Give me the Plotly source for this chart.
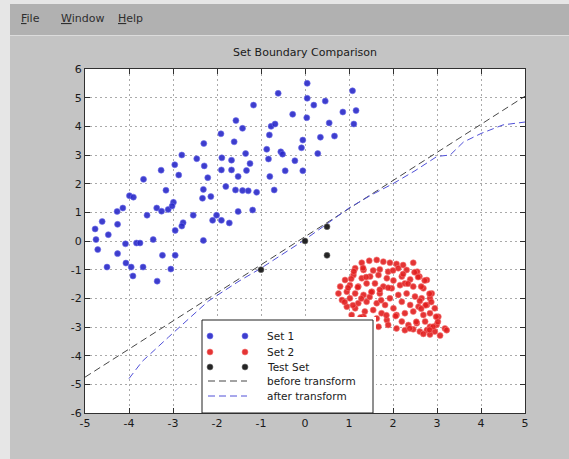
import plotly.graph_objects as go

# ---------------- data ----------------
set1_points = [
    (0.05, 5.50), (-0.61, 5.15), (0.05, 4.98), (-1.17, 4.74), (-0.28, 4.42), (0.04, 4.30),
    (-1.57, 4.20), (-0.77, 4.00), (-0.68, 4.08), (-1.42, 3.93), (-0.81, 3.70), (-1.91, 3.74),
    (-2.30, 3.40), (-1.61, 3.46), (-0.05, 3.52), (-0.08, 3.25), (-0.87, 3.20), (-0.55, 3.11),
    (-0.51, 3.03), (-1.35, 3.05), (-2.80, 3.00), (-2.46, 2.87), (-1.89, 2.90), (-1.67, 2.82),
    (-0.83, 2.86), (-0.23, 2.80), (-1.25, 2.70), (-2.29, 2.62), (-2.96, 2.66), (-3.27, 2.47),
    (-1.90, 2.48), (-1.67, 2.48), (-1.33, 2.46), (-0.45, 2.45), (-0.05, 2.45), (-2.87, 2.30),
    (-0.80, 2.25), (-1.52, 2.25), (-2.21, 2.21), (-3.67, 2.15), (-1.80, 1.90), (-3.16, 1.77),
    (-2.31, 1.80), (-1.58, 1.78), (-1.42, 1.76), (-1.29, 1.75), (-1.10, 1.70), (-0.70, 1.78),
    (-3.99, 1.58), (-3.90, 1.53), (-2.33, 1.49), (-2.14, 1.55), (-4.14, 1.15), (-4.27, 1.03),
    (-3.37, 1.15), (-3.26, 1.04), (-3.11, 1.10), (-2.99, 1.35), (-3.02, 1.22), (-4.61, 0.68),
    (-4.77, 0.42), (-3.59, 0.90), (-2.54, 0.90), (-2.01, 0.90), (-2.10, 0.72), (-1.90, 0.72),
    (-1.72, 0.63), (-1.52, 1.03), (-1.19, 1.08), (-4.26, 0.58), (-2.77, 0.64), (-2.80, 0.52),
    (-2.95, 0.37), (-4.47, 0.22), (-4.75, 0.05), (-4.71, -0.30), (-4.08, -0.10), (-3.83, -0.07),
    (-3.75, -0.07), (-3.45, 0.05), (-2.31, 0.02), (-4.26, -0.44), (-3.24, -0.50), (-2.95, -0.50),
    (-4.07, -0.77), (-3.95, -0.91), (-3.91, -1.22), (-3.68, -0.91), (-4.50, -0.91), (-3.36, -1.40),
    (-3.05, -0.98), (1.08, 5.24), (0.20, 4.74), (0.46, 4.88), (0.86, 4.50), (1.16, 4.55),
    (0.55, 4.12), (1.11, 4.08), (0.35, 3.62), (0.67, 3.66), (0.29, 3.05),
]

set2_points = [
    (1.29, -0.76), (1.46, -0.69), (1.63, -0.66), (1.78, -0.72), (1.93, -0.76), (2.08, -0.80),
    (2.23, -0.84), (2.46, -0.76), (1.14, -0.95), (1.33, -1.01), (1.55, -1.03), (1.70, -0.99),
    (1.89, -1.07), (2.12, -0.95), (2.31, -1.01), (2.55, -1.07), (1.10, -1.19), (0.91, -1.36),
    (1.29, -1.30), (1.48, -1.24), (1.67, -1.19), (1.86, -1.30), (2.01, -1.38), (2.20, -1.24),
    (2.39, -1.34), (2.60, -1.24), (2.77, -1.36), (0.80, -1.59), (1.02, -1.54), (1.21, -1.59),
    (1.40, -1.48), (1.59, -1.48), (1.78, -1.59), (1.97, -1.65), (2.16, -1.54), (2.27, -1.48),
    (2.46, -1.59), (2.69, -1.65), (2.88, -1.83), (0.76, -1.83), (0.95, -1.77), (1.14, -1.83),
    (1.33, -1.88), (1.52, -1.77), (1.70, -1.83), (1.93, -2.00), (2.12, -1.88), (2.31, -1.83),
    (2.50, -1.94), (2.65, -2.00), (2.84, -2.00), (0.84, -2.06), (1.02, -2.00), (1.21, -2.17),
    (1.40, -2.12), (1.63, -2.17), (1.82, -2.23), (2.01, -2.35), (2.20, -2.12), (2.39, -2.23),
    (2.58, -2.29), (2.77, -2.23), (2.95, -2.35), (0.95, -2.29), (1.14, -2.35), (1.36, -2.46),
    (1.55, -2.41), (1.74, -2.52), (2.08, -2.58), (2.27, -2.52), (2.46, -2.46), (2.69, -2.58),
    (2.84, -2.52), (3.03, -2.64), (1.06, -2.58), (1.33, -2.64), (1.63, -2.70), (1.86, -2.76),
    (2.20, -2.81), (2.35, -2.93), (2.54, -2.87), (2.73, -2.81), (2.84, -2.99), (2.99, -2.93),
    (3.18, -3.05), (3.22, -3.11), (1.67, -2.99), (1.89, -2.93), (2.08, -3.05), (2.27, -3.11),
    (2.46, -3.08), (2.61, -3.16), (2.77, -3.11), (2.95, -3.16), (3.07, -3.30), (2.84, -3.26),
    (2.69, -3.24), (2.57, -1.26), (2.72, -1.38), (2.34, -1.49), (2.83, -1.84), (2.64, -1.59),
    (2.61, -2.09), (2.74, -2.24), (2.87, -2.13), (2.64, -2.36), (2.98, -2.64), (1.85, -2.59),
    (2.06, -2.62), (1.28, -2.01), (1.47, -1.95), (1.73, -2.07), (1.51, -1.78), (1.70, -1.70),
    (1.89, -1.63), (1.39, -1.26), (1.05, -1.32), (0.98, -1.63), (1.20, -1.61), (0.90, -2.13),
    (1.09, -2.24), (1.26, -2.67), (2.53, -2.82), (2.91, -2.99), (3.02, -2.82), (2.83, -3.10),
    (2.38, -3.05), (1.11, -1.06), (1.32, -0.94), (2.00, -1.03), (2.23, -1.15), (2.49, -1.09),
]

test_x = [-1.0, 0.0, 0.5, 0.5]
test_y = [-1.0, 0.0, 0.5, -0.5]

before_x = [-5.0, 5.0]
before_y = [-4.75, 5.05]

after_x = [-4.0, -3.7, -3.1, -2.6, -2.2, -1.5, -1.0, -0.5, 0.0, 0.5, 1.0, 1.5,
           2.0, 2.5, 3.0, 3.3, 3.6, 4.0, 4.5, 5.0]
after_y = [-4.8, -4.2, -3.35, -2.65, -2.1, -1.4, -0.95, -0.45, 0.05, 0.6, 1.15, 1.6,
           2.0, 2.45, 2.95, 3.0, 3.45, 3.75, 4.05, 4.15]

x_tick_vals = [-5, -4, -3, -2, -1, 0, 1, 2, 3, 4, 5]
x_tick_text = ["-5", "-4", "-3", "-2", "-1", "0", "1", "2", "3", "4", "5"]
y_tick_vals = [-6, -5, -4, -3, -2, -1, 0, 1, 2, 3, 4, 5, 6]
y_tick_text = ["-6", "-5", "-4", "-3", "-2", "-1", "0", "1", "2", "3", "4", "5", "6"]

legend_labels = ["Set 1", "Set 2", "Test Set", "before transform", "after transform"]
title_text = "Set Boundary Comparison"
menu_items = ["<u>F</u>ile", "<u>W</u>indow", "<u>H</u>elp"]

set1_x = [p[0] for p in set1_points]
set1_y = [p[1] for p in set1_points]
set2_x = [p[0] for p in set2_points]
set2_y = [p[1] for p in set2_points]

# ---------------- layout geometry (pixels) ----------------
W, H = 569, 459
L, R, T, B = 85, 44, 69, 46
PW, PH = W - L - R, H - T - B


def px_x(px):
    return (px - L) / PW


def px_y(py):
    return (H - B - py) / PH


FONT = "DejaVu Sans, Verdana, sans-serif"

# styles
BLUE = dict(symbol="circle", size=6, color="rgba(40,40,200,0.9)",
            line=dict(color="rgba(110,110,235,0.6)", width=1))
RED = dict(symbol="circle", size=6, color="rgba(225,30,30,0.9)",
           line=dict(color="rgba(245,120,120,0.6)", width=1))
BLACK = dict(symbol="circle", size=6, color="rgba(25,25,25,0.95)",
             line=dict(color="rgba(110,110,110,0.6)", width=1))
LINE_BEFORE = dict(color="#464646", width=1, dash="7px,4px")
LINE_AFTER = dict(color="#5050d8", width=1, dash="7px,4px")

fig = go.Figure()

fig.add_trace(go.Scatter(x=before_x, y=before_y, mode="lines", name=legend_labels[3],
                         line=LINE_BEFORE, showlegend=False))
fig.add_trace(go.Scatter(x=after_x, y=after_y, mode="lines", name=legend_labels[4],
                         line=LINE_AFTER, showlegend=False))
fig.add_trace(go.Scatter(x=set1_x, y=set1_y, mode="markers", name=legend_labels[0],
                         marker=BLUE, showlegend=False))
fig.add_trace(go.Scatter(x=set2_x, y=set2_y, mode="markers", name=legend_labels[1],
                         marker=RED, showlegend=False))
fig.add_trace(go.Scatter(x=test_x, y=test_y, mode="markers", name=legend_labels[2],
                         marker=BLACK, showlegend=False))

# ---------------- MATLAB-style legend box (own pixel-unit axes) ----------------
LX0, LY0 = 202, 320          # legend box top-left corner (px)
LW, LH = 171, 93             # legend box size (px); bottom sits on the x axis
row_off = [16, 32, 47, 61, 76]
sym_off = [8, 43]
txt_off = 63
pad = 3

fig.add_trace(go.Scatter(
    x=[0, LW, LW, 0, 0], y=[0, 0, LH, LH, 0], mode="lines", fill="toself",
    fillcolor="white", line=dict(color="#202020", width=1),
    xaxis="x2", yaxis="y2", showlegend=False, hoverinfo="skip"))
for i, mk in enumerate([BLUE, RED, BLACK]):
    fig.add_trace(go.Scatter(
        x=sym_off, y=[row_off[i]] * 2, mode="markers", marker=mk,
        xaxis="x2", yaxis="y2", showlegend=False, hoverinfo="skip"))
for i, ln in zip([3, 4], [LINE_BEFORE, LINE_AFTER]):
    fig.add_trace(go.Scatter(
        x=[sym_off[0] - 2, sym_off[1] + 2], y=[row_off[i]] * 2, mode="lines", line=ln,
        xaxis="x2", yaxis="y2", showlegend=False, hoverinfo="skip"))

annotations = []
for lab, ro in zip(legend_labels, row_off):
    annotations.append(dict(
        text=lab, xref="x2", yref="y2", x=txt_off, y=ro, xanchor="left", yanchor="middle",
        showarrow=False, font=dict(family=FONT, size=10.5, color="#1a1a1a")))

menu_pos = [30, 82, 130]
for txt, mx in zip(menu_items, menu_pos):
    annotations.append(dict(
        text=txt, xref="paper", yref="paper", x=px_x(mx), y=px_y(19),
        xanchor="center", yanchor="middle", showarrow=False,
        font=dict(family=FONT, size=11, color="#2e2e2e")))

shapes = [
    dict(type="rect", xref="paper", yref="paper", x0=px_x(0), x1=px_x(10),
         y0=px_y(H), y1=px_y(0), fillcolor="#e6e6e6", line=dict(width=0), layer="below"),
    dict(type="rect", xref="paper", yref="paper", x0=px_x(0), x1=px_x(W),
         y0=px_y(4), y1=px_y(0), fillcolor="#e6e6e6", line=dict(width=0), layer="below"),
    dict(type="rect", xref="paper", yref="paper", x0=px_x(10), x1=px_x(W),
         y0=px_y(35), y1=px_y(4), fillcolor="#b1b1b1", line=dict(width=0), layer="below"),
    dict(type="line", xref="paper", yref="paper", x0=px_x(10), x1=px_x(W),
         y0=px_y(35.5), y1=px_y(35.5), line=dict(color="#dcdcdc", width=1), layer="below"),
]

axis_common = dict(
    showline=True, linecolor="#303030", linewidth=1, mirror="ticks",
    ticks="inside", ticklen=5, tickcolor="#303030", tickwidth=1,
    showgrid=True, gridcolor="#aaaaaa", griddash="2px,3px", gridwidth=1,
    zeroline=False, tickfont=dict(family=FONT, size=11, color="#1a1a1a"),
)

fig.update_layout(
    width=W, height=H,
    margin=dict(l=L, r=R, t=T, b=B, pad=0),
    paper_bgcolor="#c4c4c4",
    plot_bgcolor="white",
    title=dict(text=title_text, x=px_x(305), xref="paper", xanchor="center",
               y=1 - 52 / H, yref="container", yanchor="middle",
               font=dict(family=FONT, size=11, color="#1a1a1a")),
    xaxis=dict(range=[-5, 5], tickvals=x_tick_vals, ticktext=x_tick_text, **axis_common),
    yaxis=dict(range=[-6, 6], tickvals=y_tick_vals, ticktext=y_tick_text, **axis_common),
    xaxis2=dict(domain=[px_x(LX0 - pad), px_x(LX0 + LW + pad)], range=[-pad, LW + pad],
                visible=False, anchor="y2", fixedrange=True),
    yaxis2=dict(domain=[0, px_y(LY0 - pad)], range=[LH, -pad],
                visible=False, anchor="x2", fixedrange=True),
    showlegend=False,
    shapes=shapes,
    annotations=annotations,
)

fig.write_html("out.html")
